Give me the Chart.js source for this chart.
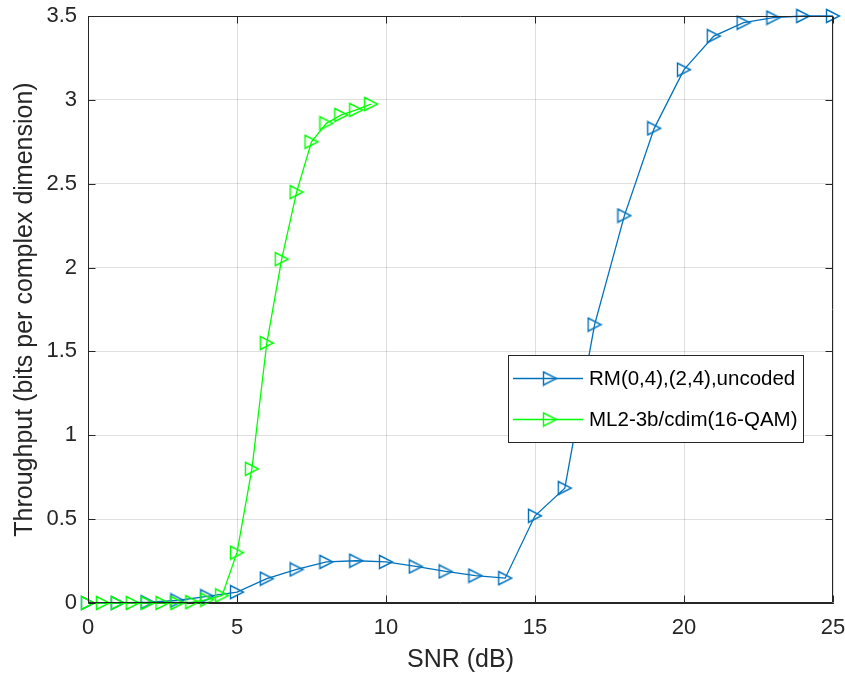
<!DOCTYPE html>
<html>
<head>
<meta charset="utf-8">
<title>Throughput vs SNR</title>
<script src="https://cdn.jsdelivr.net/npm/chart.js@4/dist/chart.umd.min.js"></script>
<style>
  html, body { margin: 0; padding: 0; background: #ffffff; }
  #wrap { width: 845px; height: 674px; position: relative; }
</style>
</head>
<body>
<div id="wrap"><canvas id="chart" width="845" height="674"></canvas></div>
<script>
// SNR grid and measured throughput for each scheme
const snrRM = [0, 1, 2, 3, 4, 5, 6, 7, 8, 9, 10, 11, 12, 13, 14, 15, 16, 17, 18, 19, 20, 21, 22, 23, 24, 25];
const throughputRM = [0, 0, 0.005, 0.015, 0.04, 0.065, 0.145, 0.2, 0.245, 0.252, 0.245, 0.218, 0.188, 0.163, 0.148,
                      0.52, 0.685, 1.66, 2.31, 2.83, 3.18, 3.38, 3.46, 3.49, 3.5, 3.5];

const snrML = [0, 0.5, 1, 1.5, 2, 2.5, 3, 3.5, 4, 4.5, 5, 5.5, 6, 6.5, 7, 7.5, 8, 8.5, 9, 9.5];
const throughputML = [0, 0, 0, 0, 0, 0, 0, 0.005, 0.02, 0.045, 0.3, 0.8, 1.55, 2.05, 2.45, 2.75, 2.86, 2.91, 2.94, 2.975];

const seriesLabels = ['RM(0,4),(2,4),uncoded', 'ML2-3b/cdim(16-QAM)'];
const seriesColors = ['#0072BD', '#00FF00'];

const xTicks = [0, 5, 10, 15, 20, 25];
const yTicks = [0, 0.5, 1, 1.5, 2, 2.5, 3, 3.5];

const xTitle = 'SNR (dB)';
const yTitle = 'Throughput (bits per complex dimension)';

const FONT = "'Liberation Sans', Arial, Helvetica, sans-serif";
const AXIS_COLOR = '#262626';

// Right-pointing open triangle marker, centred on its bounding box
function triangleMarker(color) {
  const c = document.createElement('canvas');
  c.width = 16; c.height = 16;
  const g = c.getContext('2d');
  g.strokeStyle = color;
  g.lineWidth = 1.4;
  g.lineJoin = 'miter';
  g.beginPath();
  g.moveTo(1.5, 1.5);
  g.lineTo(14.6, 8);
  g.lineTo(1.5, 14.5);
  g.closePath();
  g.stroke();
  return c;
}
const markers = seriesColors.map(triangleMarker);

function toPoints(xs, ys) {
  return xs.map((x, i) => ({ x: x, y: ys[i] }));
}

// Box outline and inward tick marks on all four sides
const axesBox = {
  id: 'axesBox',
  afterDatasetsDraw(chart) {
    const { ctx, chartArea: a, scales } = chart;
    const len = 7;
    ctx.save();
    ctx.strokeStyle = AXIS_COLOR;
    ctx.lineWidth = 1;
    ctx.beginPath();
    const L = Math.round(a.left) + 0.5, R = Math.round(a.right) - 0.5;
    const T = Math.round(a.top) + 0.5, B = Math.round(a.bottom) - 0.5;
    ctx.moveTo(L, T); ctx.lineTo(R, T); ctx.lineTo(R, B); ctx.lineTo(L, B); ctx.closePath();
    xTicks.forEach(v => {
      const px = Math.round(scales.x.getPixelForValue(v)) + 0.5;
      ctx.moveTo(px, B); ctx.lineTo(px, B - len);
      ctx.moveTo(px, T); ctx.lineTo(px, T + len);
    });
    yTicks.forEach(v => {
      const py = Math.round(scales.y.getPixelForValue(v)) + 0.5;
      ctx.moveTo(L, py); ctx.lineTo(L + len, py);
      ctx.moveTo(R, py); ctx.lineTo(R - len, py);
    });
    ctx.stroke();
    ctx.restore();
  }
};

// Boxed legend inside the axes
const boxedLegend = {
  id: 'boxedLegend',
  afterDraw(chart) {
    const { ctx } = chart;
    const box = { x: 508.5, y: 355.5, w: 295, h: 87 };
    const rows = [378, 419];
    ctx.save();
    ctx.fillStyle = '#ffffff';
    ctx.fillRect(box.x, box.y, box.w, box.h);
    ctx.strokeStyle = AXIS_COLOR;
    ctx.lineWidth = 1;
    ctx.strokeRect(box.x, box.y, box.w, box.h);
    chart.data.datasets.forEach((ds, i) => {
      const y = rows[i] + 0.5;
      ctx.strokeStyle = ds.borderColor;
      ctx.lineWidth = ds.borderWidth;
      ctx.beginPath();
      ctx.moveTo(513, y);
      ctx.lineTo(583, y);
      ctx.stroke();
      const m = ds.pointStyle;
      ctx.drawImage(m, 550 - m.width / 2, rows[i] - m.height / 2 + 0.5);
      ctx.fillStyle = '#000000';
      ctx.font = '20.5px ' + FONT;
      ctx.textAlign = 'left';
      ctx.textBaseline = 'middle';
      ctx.fillText(ds.label, 589, rows[i] + 1);
    });
    ctx.restore();
  }
};

// The later series is drawn over the earlier one
const datasets = [
  { x: snrRM, y: throughputRM },
  { x: snrML, y: throughputML }
].map((s, i, all) => ({
  label: seriesLabels[i],
  data: toPoints(s.x, s.y),
  order: all.length - i,
  borderColor: seriesColors[i],
  backgroundColor: seriesColors[i],
  borderWidth: 1.3,
  pointStyle: markers[i],
  pointRadius: 6,
  pointHoverRadius: 6,
  tension: 0,
  clip: false
}));

new Chart(document.getElementById('chart'), {
  type: 'line',
  data: { datasets: datasets },
  options: {
    responsive: false,
    animation: false,
    devicePixelRatio: 1,
    layout: { padding: { top: 16, right: 12, left: 0, bottom: 0 } },
    plugins: {
      legend: { display: false },
      tooltip: { enabled: false }
    },
    scales: {
      x: {
        type: 'linear',
        min: 0,
        max: 25,
        afterBuildTicks(scale) { scale.ticks = xTicks.map(v => ({ value: v })); },
        afterFit(scale) {
          scale.height = 71;
          scale.paddingLeft = 0;
          scale.paddingRight = 0;
        },
        grid: { color: 'rgba(38,38,38,0.15)', lineWidth: 1, drawTicks: false },
        border: { display: true, color: AXIS_COLOR, width: 1 },
        ticks: {
          color: AXIS_COLOR,
          padding: 12,
          maxRotation: 0,
          font: { family: FONT, size: 22 },
          callback: v => String(v)
        },
        title: {
          display: true,
          text: xTitle,
          color: AXIS_COLOR,
          font: { family: FONT, size: 25, lineHeight: 1.0 },
          padding: { top: 0, bottom: 1 }
        }
      },
      y: {
        type: 'linear',
        min: 0,
        max: 3.5,
        afterBuildTicks(scale) { scale.ticks = yTicks.map(v => ({ value: v })); },
        afterFit(scale) {
          scale.width = 88;
          scale.paddingTop = 0;
          scale.paddingBottom = 0;
        },
        grid: { color: 'rgba(38,38,38,0.15)', lineWidth: 1, drawTicks: false },
        border: { display: true, color: AXIS_COLOR, width: 1 },
        ticks: {
          color: AXIS_COLOR,
          padding: 11,
          font: { family: FONT, size: 22 },
          callback: v => String(v)
        },
        title: {
          display: true,
          text: yTitle,
          color: AXIS_COLOR,
          font: { family: FONT, size: 25, lineHeight: 1.0 },
          padding: { top: 13, bottom: 0 }
        }
      }
    }
  },
  plugins: [axesBox, boxedLegend]
});
</script>
</body>
</html>
